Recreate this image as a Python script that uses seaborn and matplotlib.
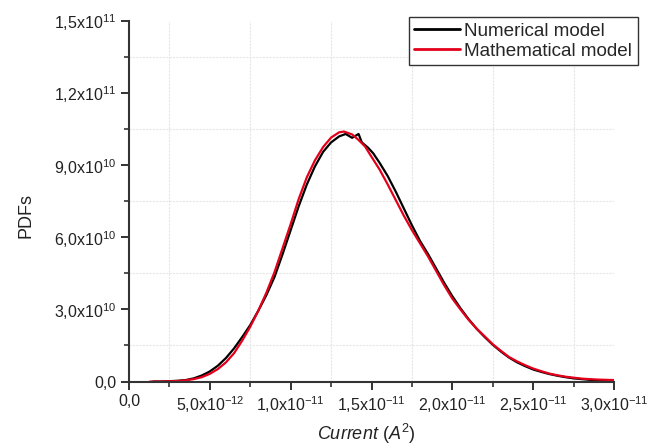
import numpy as np
import pandas as pd
import matplotlib
matplotlib.use("Agg")
import matplotlib.pyplot as plt
from matplotlib.ticker import FixedLocator
import seaborn as sns

# ---- data (x in units of 1e-12 A^2, y in units of 1e10) ----
num_x = [1.5, 2, 3, 3.5, 4, 4.5, 5, 5.5, 6, 6.5, 7, 7.5, 8, 8.5, 9, 9.5, 10, 10.5,
         11, 11.5, 12, 12.5, 13, 13.4, 13.8, 14.2, 14.4, 14.8, 15.1, 15.5, 16, 16.5,
         17, 17.5, 18, 18.5, 19, 19.5, 20, 20.5, 21, 21.5, 22, 22.5, 23, 23.5, 24,
         24.5, 25, 25.5, 26, 26.5, 27, 27.5, 28, 28.5, 29, 30]
num_y = [0.0, 0.0, 0.03, 0.06, 0.13, 0.25, 0.42, 0.66, 0.98, 1.38, 1.85, 2.35, 2.95,
         3.6, 4.35, 5.3, 6.3, 7.3, 8.2, 8.95, 9.55, 9.95, 10.2, 10.3, 10.14, 10.3,
         9.95, 9.72, 9.5, 9.1, 8.55, 7.9, 7.2, 6.5, 5.85, 5.3, 4.7, 4.1, 3.55, 3.05,
         2.6, 2.2, 1.85, 1.53, 1.25, 1.0, 0.8, 0.64, 0.5, 0.4, 0.31, 0.24, 0.18,
         0.13, 0.1, 0.07, 0.05, 0.03]

math_x = [1.3, 2, 3, 3.5, 4, 4.5, 5, 5.5, 6, 6.5, 7, 7.5, 8, 8.5, 9, 9.5, 10, 10.5,
          11, 11.5, 12, 12.5, 13, 13.3, 13.8, 14.2, 14.6, 15, 15.5, 16, 16.5, 17,
          17.5, 18, 18.5, 19, 19.5, 20, 20.5, 21, 21.5, 22, 22.5, 23, 23.5, 24,
          24.5, 25, 25.5, 26, 26.5, 27, 27.5, 28, 29, 30]
math_y = [0.0, 0.0, 0.02, 0.05, 0.1, 0.18, 0.32, 0.52, 0.8, 1.18, 1.7, 2.28, 2.95,
          3.7, 4.55, 5.55, 6.55, 7.6, 8.5, 9.2, 9.75, 10.15, 10.37, 10.4, 10.28,
          10.05, 9.78, 9.35, 8.82, 8.2, 7.55, 6.9, 6.3, 5.75, 5.2, 4.6, 4.0, 3.45,
          3.0, 2.57, 2.2, 1.88, 1.55, 1.28, 1.02, 0.84, 0.68, 0.54, 0.43, 0.33,
          0.26, 0.2, 0.16, 0.12, 0.08, 0.06]

series_names = ["Numerical model", "Mathematical model"]
series_colors = ["#000000", "#e3001b"]

x_ticks = [0, 5e-12, 1e-11, 1.5e-11, 2e-11, 2.5e-11, 3e-11]
x_tick_labels = ["0,0", r"5,0x10$^{-12}$", r"1,0x10$^{-11}$", r"1,5x10$^{-11}$",
                 r"2,0x10$^{-11}$", r"2,5x10$^{-11}$", r"3,0x10$^{-11}$"]
y_ticks = [0, 3e10, 6e10, 9e10, 1.2e11, 1.5e11]
y_tick_labels = ["0,0", r"3,0x10$^{10}$", r"6,0x10$^{10}$", r"9,0x10$^{10}$",
                 r"1,2x10$^{11}$", r"1,5x10$^{11}$"]

# ---- build frame ----
df = pd.concat([
    pd.DataFrame({"x": np.array(num_x) * 1e-12, "y": np.array(num_y) * 1e10,
                  "model": series_names[0]}),
    pd.DataFrame({"x": np.array(math_x) * 1e-12, "y": np.array(math_y) * 1e10,
                  "model": series_names[1]}),
], ignore_index=True)

sns.set_style("white")
plt.rcParams["font.family"] = ["Liberation Sans", "DejaVu Sans"]
plt.rcParams["mathtext.fontset"] = "custom"
plt.rcParams["mathtext.rm"] = "Liberation Sans"
plt.rcParams["mathtext.it"] = "Liberation Sans:italic"
plt.rcParams["mathtext.default"] = "regular"

fig = plt.figure(figsize=(6.47, 4.47), dpi=100)
ax = fig.add_axes([0.1994, 0.1465, 0.7496, 0.8065])

sns.lineplot(data=df, x="x", y="y", hue="model", hue_order=series_names,
             palette=series_colors, linewidth=1.6, ax=ax, sort=False,
             estimator=None)

ax.set_xlim(0, 3e-11)
ax.set_ylim(0, 1.5e11)

ax.xaxis.set_major_locator(FixedLocator(x_ticks))
ax.set_xticklabels(x_tick_labels)
ax.yaxis.set_major_locator(FixedLocator(y_ticks))
ax.set_yticklabels(y_tick_labels)
ax.xaxis.set_minor_locator(FixedLocator([2.5e-12 + 5e-12 * i for i in range(6)]))
ax.yaxis.set_minor_locator(FixedLocator([1.5e10 + 3e10 * i for i in range(5)]))

ax.tick_params(axis="both", which="major", direction="out", length=6, width=1.4,
               color="#333333", labelsize=11.5, labelcolor="#222222", pad=3,
               bottom=True, left=True)
ax.tick_params(axis="both", which="minor", direction="out", length=3.5, width=1.2,
               color="#333333", bottom=True, left=True)

ax.grid(False, which="major")
ax.grid(True, which="minor", color="#e6e6e6", linewidth=0.8, linestyle=(0, (2, 1)))
ax.set_axisbelow(True)

for side in ["top", "right"]:
    ax.spines[side].set_visible(False)
for side in ["left", "bottom"]:
    ax.spines[side].set_color("#333333")
    ax.spines[side].set_linewidth(1.5)

ax.set_ylabel("PDFs", fontsize=13, color="#222222")
ax.set_xlabel(r"$\mathit{Current\ (A^{2})}$", fontsize=13, color="#222222")
ax.yaxis.set_label_coords(-0.195, 0.46)
ax.xaxis.set_label_coords(0.49, -0.146)
ax.xaxis.label.set_verticalalignment("center")

leg = ax.legend(loc="upper right", bbox_to_anchor=(1.0495, 1.012), fontsize=13.6,
                frameon=True, fancybox=False, framealpha=1, handlelength=2.4,
                handletextpad=0.25, borderpad=0.3, labelspacing=0.15,
                borderaxespad=0)
leg.get_frame().set_edgecolor("#333333")
leg.get_frame().set_linewidth(1.0)
for line in leg.get_lines():
    line.set_linewidth(2.0)
leg.set_title(None)

fig.savefig("out.png", dpi=100)
